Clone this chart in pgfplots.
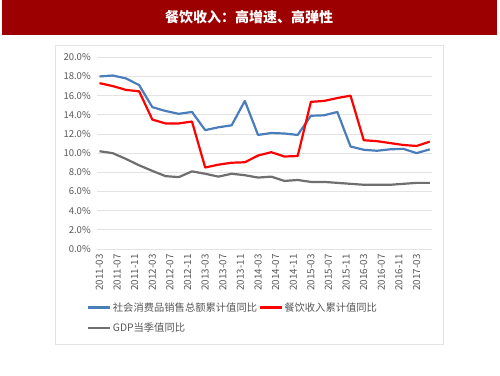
\documentclass[border=0pt]{standalone}
\usepackage{fontspec}
\setmainfont{Noto Sans CJK SC}
\usepackage{pgfplots}
\pgfplotsset{compat=1.18}
\usepackage{pgfplotstable}
\definecolor{titlered}{HTML}{9C0000}
\definecolor{sblue}{HTML}{4A7EBB}
\definecolor{sred}{HTML}{FF0000}
\definecolor{sgray}{HTML}{6F6F6F}
\definecolor{gridc}{HTML}{E3E3E3}
\definecolor{tickc}{HTML}{595959}
\pgfplotstableread{
x blue red gray
0 18.0 17.3 10.2
3 18.1 17.0 10.0
6 17.8 16.6 9.4
9 17.1 16.45 8.73
12 14.8 13.5 8.15
15 14.4 13.1 7.6
18 14.1 13.1 7.5
21 14.3 13.3 8.1
24 12.4 8.5 7.85
27 12.7 8.8 7.55
30 12.9 9.0 7.85
33 15.45 9.05 7.7
36 11.9 9.75 7.45
39 12.1 10.1 7.55
42 12.05 9.65 7.1
45 11.9 9.7 7.2
48 13.9 15.35 7.0
51 13.95 15.45 7.0
54 14.3 15.75 6.9
57 10.7 16.0 6.8
60 10.35 11.35 6.7
63 10.25 11.25 6.7
66 10.4 11.05 6.7
69 10.45 10.85 6.8
72 10.0 10.75 6.9
75 10.4 11.2 6.9
}\datatable
\begin{document}
\begin{tikzpicture}[x=1pt,y=1pt]
\useasboundingbox (0,0) rectangle (500,375);
\fill[white] (0,0) rectangle (500,375);
\fill[titlered] (2,340) rectangle (497,375);
\node[text=white,font=\fontsize{14}{16}\selectfont\bfseries] at (249,358) {餐饮收入：高增速、高弹性};
\draw[gridc,line width=0.8pt] (55,31) rectangle (443,330);
\begin{axis}[
  at={(97.3pt,126pt)}, anchor=south west,
  scale only axis, width=334.7pt, height=191.7pt,
  xmin=-0.5, xmax=75.5, ymin=0, ymax=20,
  axis line style={draw=none},
  ymajorgrids, grid style={gridc, line width=0.8pt},
  major tick length=0pt,
  ytick={0,2,...,20},
  yticklabel={\pgfmathprintnumber[fixed,fixed zerofill,precision=1]{\tick}\%},
  xtick={0,4,...,72},
  xticklabels={2011-03,2011-07,2011-11,2012-03,2012-07,2012-11,2013-03,2013-07,2013-11,2014-03,2014-07,2014-11,2015-03,2015-07,2015-11,2016-03,2016-07,2016-11,2017-03},
  x tick label style={rotate=90, anchor=east, font=\fontsize{9.8}{10}\selectfont, text=tickc, xshift=-2pt},
  y tick label style={font=\fontsize{9.5}{10}\selectfont, text=tickc, xshift=-3pt},
  /pgf/number format/assume math mode=true,
  legend columns=2,
  legend style={at={(-0.0397,-0.262)}, anchor=north west, draw=none, fill=none,
    font=\fontsize{10.3}{12}\selectfont, text=tickc, row sep=8pt,
    nodes={inner xsep=1.5pt, inner ysep=1pt},
    /tikz/every even column/.append style={column sep=0pt}},
  legend cell align=left,
  legend image code/.code={\draw[#1,line width=2.2pt] (0pt,0pt) -- (22pt,0pt);},
  every axis plot/.append style={line width=2.2pt, line join=round},
]
\addplot[sblue, mark=none] table[x=x,y=blue]{\datatable};
\addlegendentry{社会消费品销售总额累计值同比}
\addplot[sred, mark=none] table[x=x,y=red]{\datatable};
\addlegendentry{餐饮收入累计值同比}
\addplot[sgray, mark=none] table[x=x,y=gray]{\datatable};
\addlegendentry{GDP当季值同比}
\draw[gridc,line width=0.8pt] (axis cs:-0.5,0) -- (axis cs:75.5,0);
\end{axis}
\end{tikzpicture}
\end{document}
